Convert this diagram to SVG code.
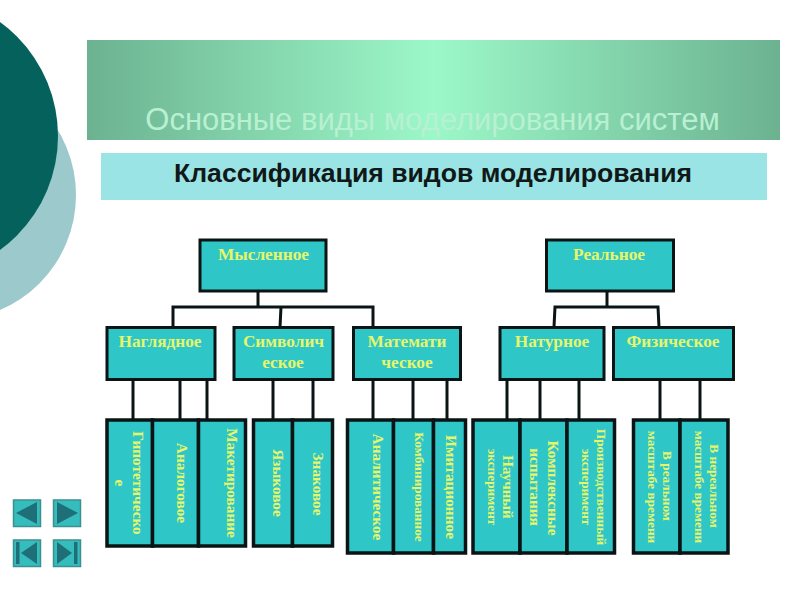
<svg xmlns="http://www.w3.org/2000/svg" width="800" height="600" viewBox="0 0 800 600">
<style>
.n{fill:#2fc6c8;stroke:#0a1414;stroke-width:3}
.d{stroke-width:3.500}
.c path{fill:none;stroke:#0a1414;stroke-width:3}
text{font-family:"Liberation Serif",serif;font-weight:bold;fill:#e6f56a;text-anchor:middle}
.h{font-size:17.3px}
.v{font-size:15.3px}
.s{font-size:13.3px}
.t{font-family:"Liberation Sans",sans-serif}
.b{fill:#35bdbd;stroke:#3f8f8f;stroke-width:1.5}
.g{fill:#1f6f78}
</style>
<defs>
<linearGradient id="bar" x1="0" y1="0" x2="1" y2="0">
<stop offset="0" stop-color="#6cb291"/><stop offset=".5" stop-color="#9cf8c8"/><stop offset="1" stop-color="#6cb291"/>
</linearGradient>
</defs>
<rect width="800" height="600" fill="#fff"/>
<circle cx="-49" cy="195" r="125" fill="#9cc9cb"/>
<circle cx="-83" cy="136" r="141" fill="#04615c"/>
<rect x="87" y="40" width="693" height="100" fill="url(#bar)"/>
<text class="t" x="432.500" y="130" style="font-size:31px;font-weight:normal;fill:#b8f0d2">Основные виды моделирования систем</text>
<rect x="101" y="153" width="666" height="47" fill="#9ae4e6"/>
<text class="t" x="433" y="182" style="font-size:26.6px;fill:#101818">Классификация видов моделирования</text>
<g class="c" id="connectors">
<path d="M258 291V307M173 327V307H373V327M281 307L280 327"/>
<path d="M133 380V420M180 380V420M207 380V420M273 380V420M313 380V420M373 380V420M413 380V420M447 380V420"/>
<path d="M607 291V307M554 327L555 307H658L659 327"/>
<path d="M507 380V420M540 380V420M579 380V420M660 380V420M700 380V420"/>
</g>
<g id="n-mysl"><rect class="n" x="200" y="240" width="126" height="51"/><text class="h" x="263.500" y="260">Мысленное</text></g>
<g id="n-real"><rect class="n" x="546.500" y="240" width="127" height="51"/><text class="h" x="609" y="260">Реальное</text></g>
<g id="n-nagl"><rect class="n" x="107" y="327.500" width="108" height="52"/><text class="h" x="160" y="347">Наглядное</text></g>
<g id="n-simv"><rect class="n" x="234" y="327.500" width="99" height="52"/><text class="h" x="283.500" y="347">Символич</text><text class="h" x="283" y="368">еское</text></g>
<g id="n-mat"><rect class="n" x="353.500" y="327.500" width="107" height="52"/><text class="h" x="407" y="347">Математи</text><text class="h" x="407" y="368">ческое</text></g>
<g id="n-nat"><rect class="n" x="500" y="327.500" width="104" height="52"/><text class="h" x="552" y="347">Натурное</text></g>
<g id="n-fiz"><rect class="n" x="613.500" y="327.500" width="120" height="52"/><text class="h" x="673" y="347">Физическое</text></g>
<g id="n-gip"><rect class="n d" x="107" y="420" width="45.500" height="126"/><text class="v" transform="translate(133 483) rotate(90)">Гипотетическо</text><text class="v" transform="translate(115 483) rotate(90)">е</text></g>
<g id="n-ana"><rect class="n d" x="152.500" y="420" width="46" height="126"/><text class="v" transform="translate(177 483) rotate(90)">Аналоговое</text></g>
<g id="n-mak"><rect class="n d" x="198.500" y="420" width="47" height="126"/><text class="v" transform="translate(227 483) rotate(90)">Макетирование</text></g>
<g id="n-yaz"><rect class="n d" x="253.500" y="420" width="39" height="126"/><text class="v" transform="translate(273 483) rotate(90)">Языковое</text></g>
<g id="n-zn"><rect class="n d" x="292.500" y="420" width="40" height="126"/><text class="v" transform="translate(313 484) rotate(90)">Знаковое</text></g>
<g id="n-anl"><rect class="n d" x="347.500" y="420" width="46" height="133"/><text class="v" transform="translate(373 487) rotate(90)">Аналитическое</text></g>
<g id="n-komb"><rect class="n d" x="393.500" y="420" width="40" height="133"/><text class="s" transform="translate(415 487) rotate(90)">Комбинированное</text></g>
<g id="n-im"><rect class="n d" x="433.500" y="420" width="32" height="133"/><text class="v" transform="translate(446 487) rotate(90)">Имитационное</text></g>
<g id="n-nauch"><rect class="n d" x="473" y="420" width="47" height="133"/><text class="v" transform="translate(503 487) rotate(90)" style="font-size:15px">Научный</text><text class="s" transform="translate(488 487) rotate(90)">эксперимент</text></g>
<g id="n-komp"><rect class="n d" x="520" y="420" width="47" height="133"/><text class="v" transform="translate(548 488) rotate(90)">Комплексные</text><text class="v" transform="translate(530 487) rotate(90)">испытания</text></g>
<g id="n-pro"><rect class="n d" x="567" y="420" width="47.500" height="133"/><text class="s" transform="translate(597 487) rotate(90)">Производственный</text><text class="s" transform="translate(582 487) rotate(90)">эксперимент</text></g>
<g id="n-vr"><rect class="n d" x="633.500" y="420" width="46.500" height="133"/><text class="s" transform="translate(663 486) rotate(90)">В реальном</text><text class="s" transform="translate(648 487) rotate(90)">масштабе времени</text></g>
<g id="n-vp"><rect class="n d" x="680" y="420" width="48" height="133"/><text class="s" transform="translate(710 486) rotate(90)">В нереальном</text><text class="s" transform="translate(695 487) rotate(90)">масштабе времени</text></g>
<g id="btn-prev"><rect class="b" x="13.500" y="500" width="27" height="26.500"/><path class="g" d="M16 513L37 502V524Z"/></g>
<g id="btn-next"><rect class="b" x="53.500" y="500" width="27" height="26.500"/><path class="g" d="M78 513L57 502V524Z"/></g>
<g id="btn-first"><rect class="b" x="13.500" y="540" width="27" height="26.500"/><path class="g" d="M21 553L37 542V564ZM16 542H19.500V564H16Z"/></g>
<g id="btn-last"><rect class="b" x="53.500" y="540" width="27" height="26.500"/><path class="g" d="M72 553L57 542V564ZM74 542H77.500V564H74Z"/></g>
</svg>
